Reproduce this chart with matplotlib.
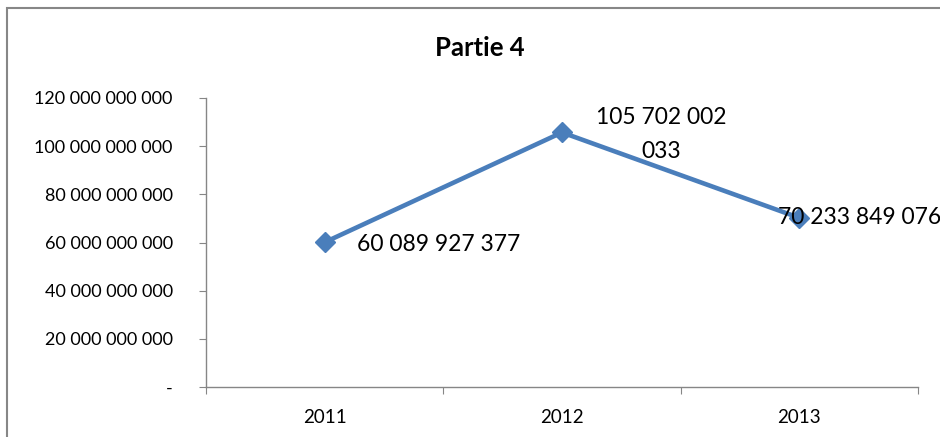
import matplotlib
matplotlib.use("Agg")
import matplotlib.pyplot as plt
from matplotlib.patches import Rectangle

plt.rcParams['font.family'] = ['Lato', 'DejaVu Sans']

years = ["2011", "2012", "2013"]
values = [60089927377, 105702002033, 70233849076]
point_labels = ["60 089 927 377", "105 702 002\n033", "70 233 849 076"]
yticks = [0, 20e9, 40e9, 60e9, 80e9, 100e9, 120e9]
ytick_labels = ["-", "20 000 000 000", "40 000 000 000", "60 000 000 000",
                "80 000 000 000", "100 000 000 000", "120 000 000 000"]
title = "Partie 4"

W, H = 940, 437
fig = plt.figure(figsize=(W / 100, H / 100), dpi=100)
fig.patch.set_facecolor("white")

# outer chart frame
fig.add_artist(Rectangle((7 / W, -0.2), 1.2, 1 - 8 / H + 0.2, transform=fig.transFigure,
                         fill=False, edgecolor="#878787", linewidth=1.5))

ax = fig.add_axes([206 / W, 1 - 387 / H, (918 - 206) / W, (387 - 98) / H])
x = list(range(1, len(years) + 1))
color = "#4A7EBB"
ax.plot(x, values, color=color, linewidth=3.3, marker="D", markersize=10.5,
        markerfacecolor=color, markeredgecolor=color, solid_capstyle="round", zorder=3)

ax.set_xlim(0.5, len(years) + 0.5)
ax.set_ylim(0, 120e9)

ax.set_yticks(yticks)
ax.set_yticklabels(ytick_labels)
ax.set_xticks([i + 0.5 for i in range(0, len(years) + 1)])
ax.set_xticklabels([])
ax.set_xticks(x, minor=True)
ax.set_xticklabels(years, minor=True)

for side in ["top", "right"]:
    ax.spines[side].set_visible(False)
for side in ["left", "bottom"]:
    ax.spines[side].set_color("#868686")
    ax.spines[side].set_linewidth(1.0)

ax.tick_params(axis="y", which="major", length=5, color="#868686", labelsize=13, pad=19)
ax.tick_params(axis="x", which="major", length=5, color="#868686")
ax.tick_params(axis="x", which="minor", length=0, labelsize=13.5, pad=15.5)

# data labels
offsets = [(32, -2, "left"), (99, -2, "center"), (-21, 0, "left")]
for xi, v, lab, (dx, dy, ha) in zip(x, values, point_labels, offsets):
    ax.annotate(lab, (xi, v), xytext=(dx * 0.72, dy * 0.72), textcoords="offset points",
                ha=ha, va="center", fontsize=16.5, linespacing=1.75, color="black",
                annotation_clip=False, zorder=4)

fig.text(480 / W, 1 - 48 / H, title, ha="center", va="center", fontsize=18.5, fontweight="bold")

fig.savefig("out.png", dpi=100)
